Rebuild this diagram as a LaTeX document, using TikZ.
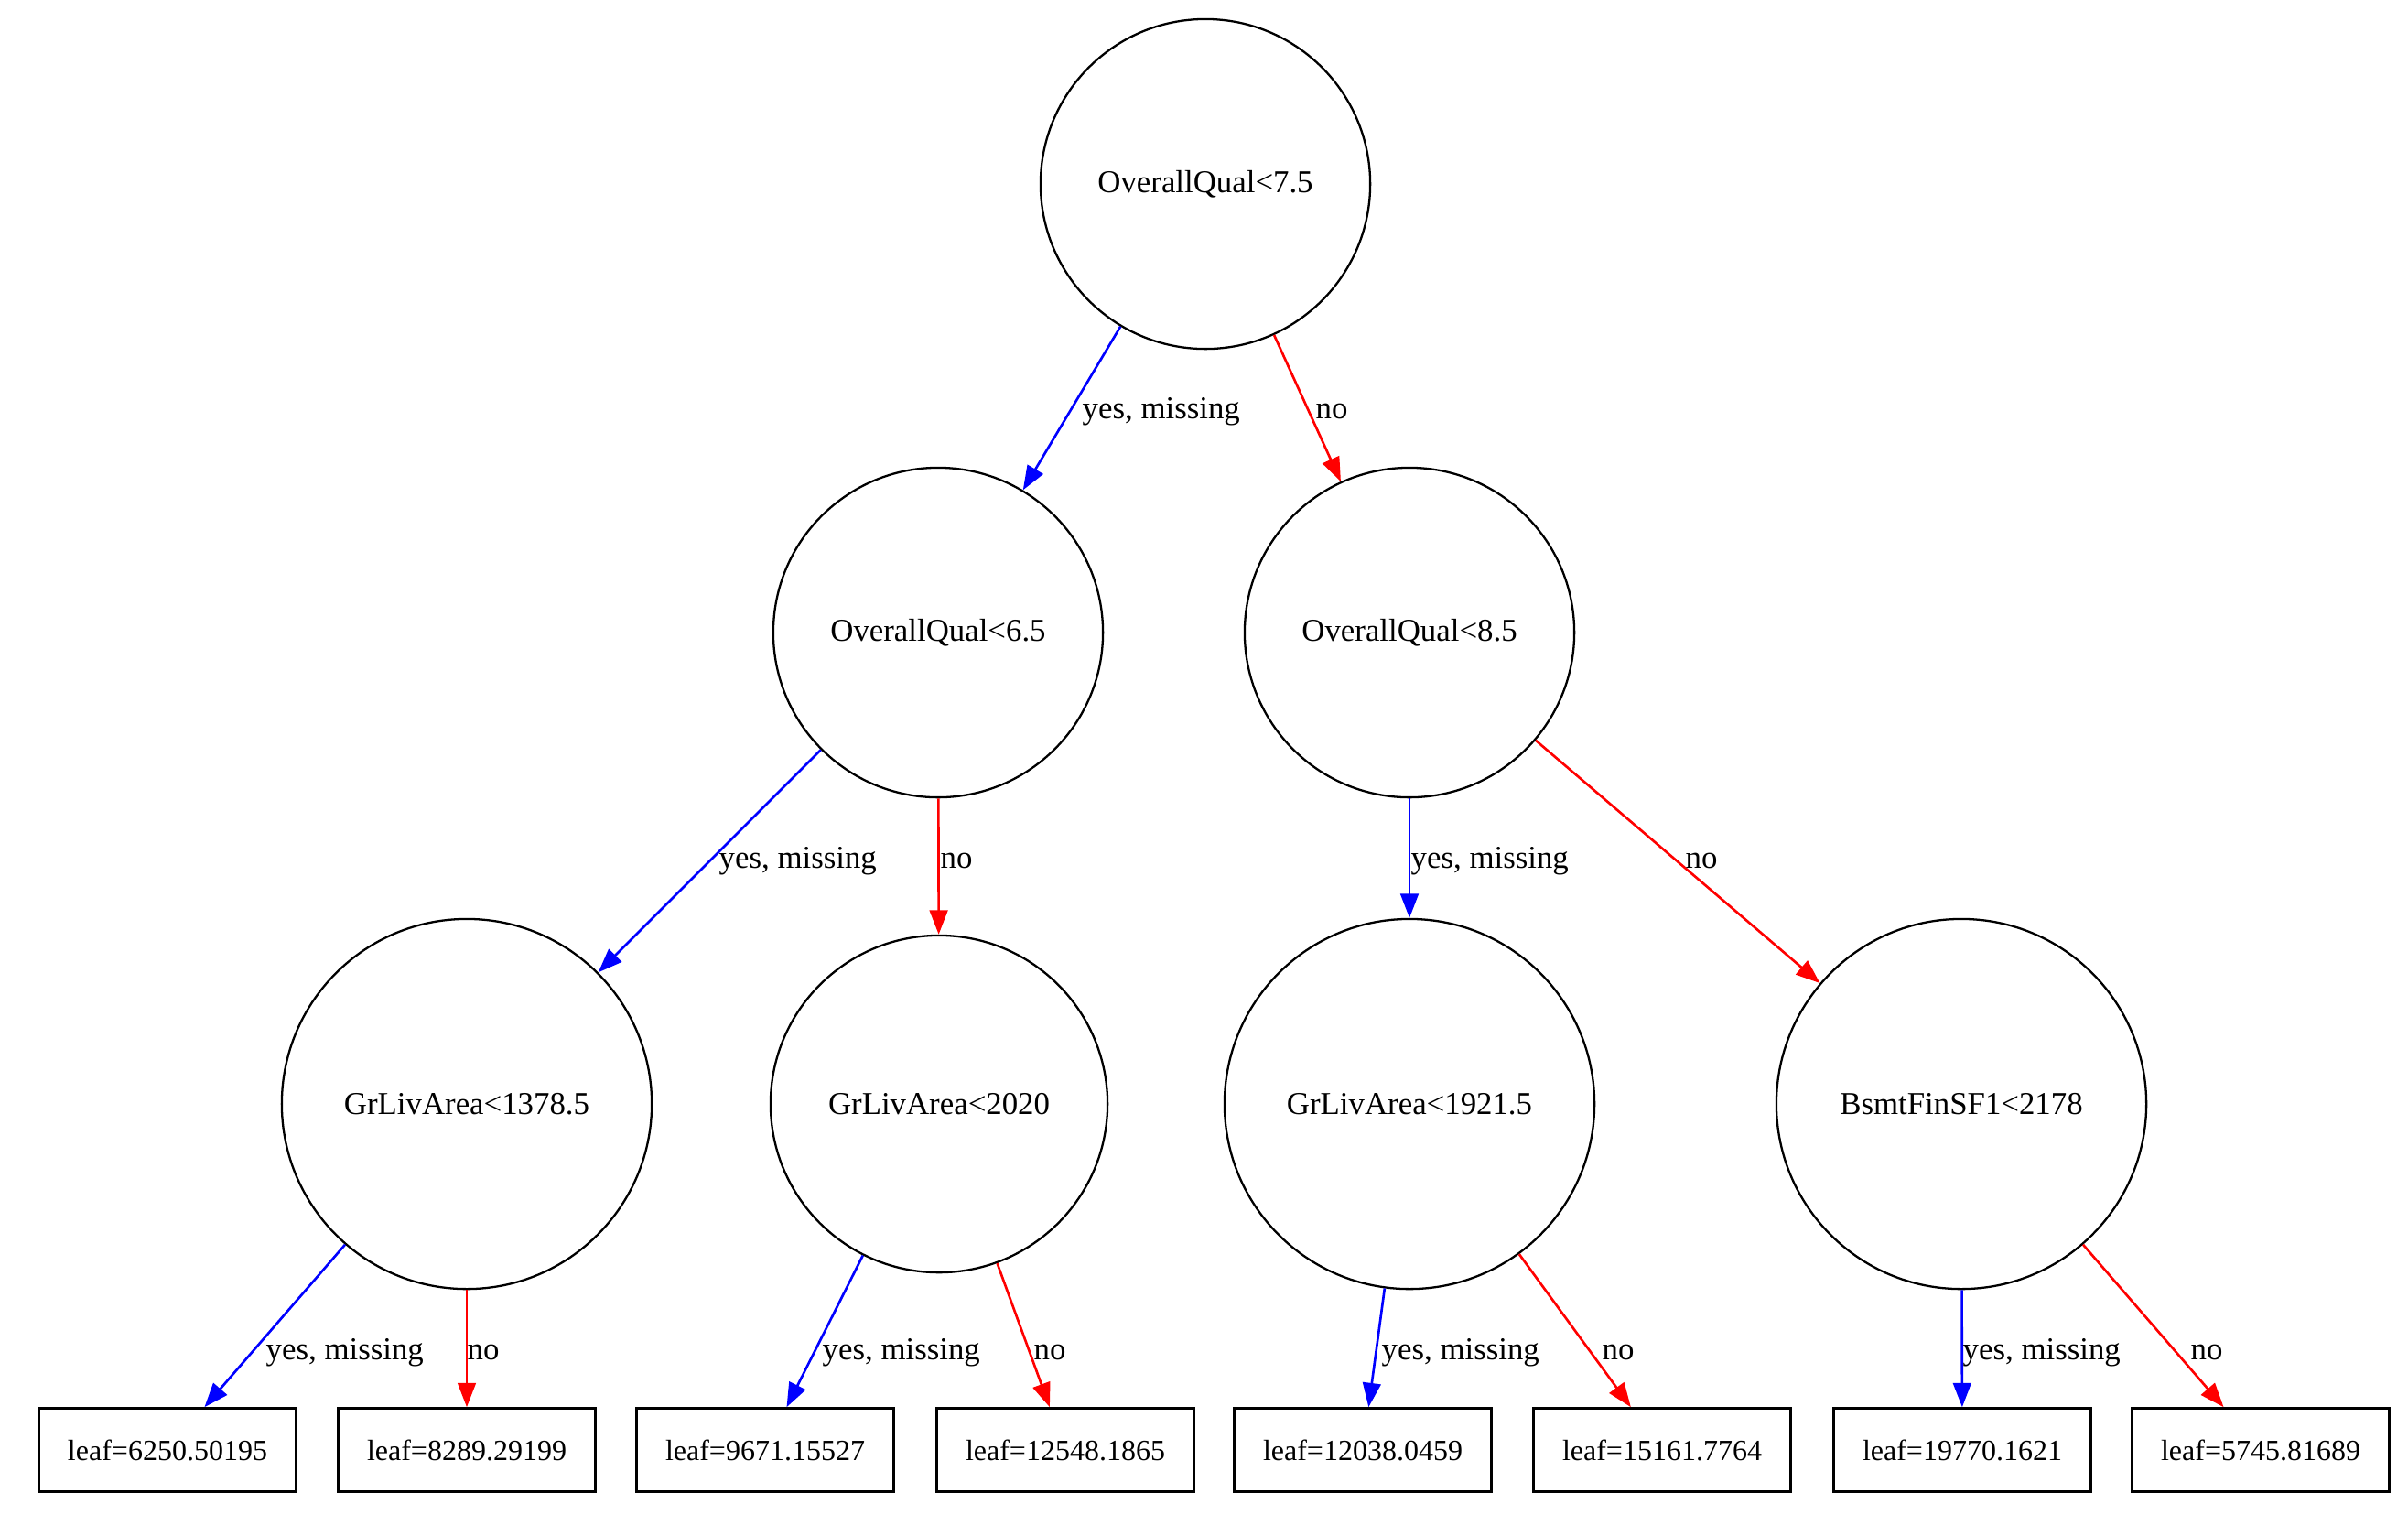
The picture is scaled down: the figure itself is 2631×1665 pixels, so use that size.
\documentclass[tikz,border=0pt]{standalone}
\usepackage{fontspec}
\setmainfont{Liberation Serif}
\usetikzlibrary{arrows.meta}

\begin{document}
\begin{tikzpicture}[x=0.01cm,y=-0.01cm,
    every node/.style={font=\fontsize{9.9}{11}\selectfont},
    splitnode/.style={circle,draw=black,line width=0.65pt,inner sep=0pt,minimum size=#1},
    leafnode/.style={rectangle,draw=black,line width=0.75pt,inner sep=0pt,minimum width=2.81cm,minimum height=0.91cm,font=\fontsize{9.1}{11}\selectfont},
    yesedge/.style={blue,line width=0.75pt,-{Triangle[length=7.5pt,width=5.6pt]}},
    noedge/.style={red,line width=0.75pt,-{Triangle[length=7.5pt,width=5.6pt]}},
    lbl/.style={anchor=base west,inner sep=0pt}]
    \useasboundingbox (0,0) rectangle (2631,1665);
    \node[splitnode=3.6cm] (q75) at (1317,201) {OverallQual<7.5};
    \node[splitnode=3.6cm] (q65) at (1025,691) {OverallQual<6.5};
    \node[splitnode=3.6cm] (q85) at (1540,691) {OverallQual<8.5};
    \node[splitnode=4.04cm] (g1378) at (510,1206) {GrLivArea<1378.5};
    \node[splitnode=3.68cm] (g2020) at (1026,1206) {GrLivArea<2020};
    \node[splitnode=4.04cm] (g1921) at (1540,1206) {GrLivArea<1921.5};
    \node[splitnode=4.04cm] (b2178) at (2143,1206) {BsmtFinSF1<2178};
    \node[leafnode] (leaf1) at (183,1584) {leaf=6250.50195};
    \node[leafnode] (leaf2) at (510,1584) {leaf=8289.29199};
    \node[leafnode] (leaf3) at (836,1584) {leaf=9671.15527};
    \node[leafnode] (leaf4) at (1164,1584) {leaf=12548.1865};
    \node[leafnode] (leaf5) at (1489,1584) {leaf=12038.0459};
    \node[leafnode] (leaf6) at (1816,1584) {leaf=15161.7764};
    \node[leafnode] (leaf7) at (2144,1584) {leaf=19770.1621};
    \node[leafnode] (leaf8) at (2470,1584) {leaf=5745.81689};
    \draw[yesedge] (q75) -- (q65);
    \draw[noedge] (q75) -- (q85);
    \draw[yesedge] (q65) -- (g1378);
    \draw[noedge] (q65) -- (g2020);
    \draw[yesedge] (q85) -- (g1921);
    \draw[noedge] (q85) -- (b2178);
    \draw[yesedge] (g1378) -- (leaf1);
    \draw[noedge] (g1378) -- (leaf2);
    \draw[yesedge] (g2020) -- (leaf3);
    \draw[noedge] (g2020) -- (leaf4);
    \draw[yesedge] (g1921) -- (leaf5);
    \draw[noedge] (g1921) -- (leaf6);
    \draw[yesedge] (b2178) -- (leaf7);
    \draw[noedge] (b2178) -- (leaf8);
    \node[lbl] (l1) at (1182,457) {yes, missing};
    \node[lbl] (l2) at (1437,457) {no};
    \node[lbl] (l3) at (785,948) {yes, missing};
    \node[lbl] (l4) at (1027,948) {no};
    \node[lbl] (l5) at (1541,948) {yes, missing};
    \node[lbl] (l6) at (1841,948) {no};
    \node[lbl] (l7) at (290,1485) {yes, missing};
    \node[lbl] (l8) at (510,1485) {no};
    \node[lbl] (l9) at (898,1485) {yes, missing};
    \node[lbl] (l10) at (1129,1485) {no};
    \node[lbl] (l11) at (1509,1485) {yes, missing};
    \node[lbl] (l12) at (1750,1485) {no};
    \node[lbl] (l13) at (2144,1485) {yes, missing};
    \node[lbl] (l14) at (2393,1485) {no};
\end{tikzpicture}
\end{document}
